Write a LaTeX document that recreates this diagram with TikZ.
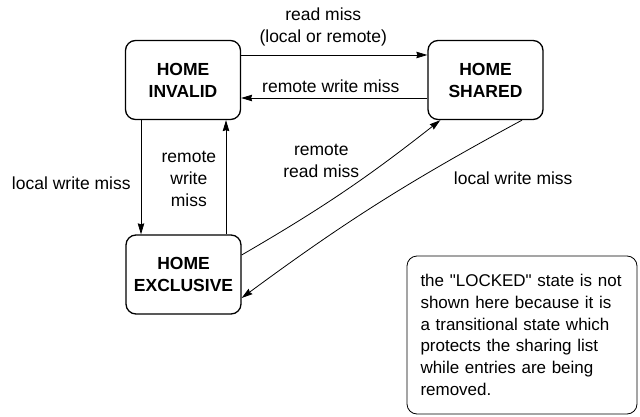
\documentclass[tikz,border=0pt]{standalone}
\usepackage{fontspec}
\setmainfont{Liberation Sans}[Ligatures=TeXOff]
\usetikzlibrary{arrows.meta}

\begin{document}
\begin{tikzpicture}[x=1pt, y=1pt,
		txt/.style={font=\fontsize{17.5}{22}\selectfont, align=center, inner sep=0pt},
		home/.style={draw, rectangle, rounded corners=10pt, line width=1.3pt, minimum width=115pt, minimum height=79pt, txt, font=\fontsize{17.5}{22}\selectfont\bfseries},
		trans/.style={line width=0.8pt, -{Stealth[length=11pt, width=6.5pt, inset=1pt]}}]
				\useasboundingbox (0, 0) rectangle (640, 416);
				\node[home] (HI)at(183, 336) {HOME\\INVALID};
				\node[home] (HS)at(485.5, 336) {HOME\\SHARED};
				\node[home] (HE)at(183.5, 141.5) {HOME\\EXCLUSIVE};
				\node[draw, rectangle, rounded corners=10pt, line width=0.8pt, minimum height=158pt, text width=203pt, inner xsep=13.5pt, inner ysep=0pt, align=left, font=\fontsize{17}{21.7}\selectfont] (note)at(522, 81) {the "LOCKED" state is not\\shown here because it is\\a transitional state which\\protects the sharing list\\while entries are being\\removed.};
				\draw[trans] ([yshift=25pt]HI.east) -- ([yshift=25pt]HS.west) node[midway, txt, xshift=-11pt, yshift=28.5pt] {read miss\\(local or remote)};
				\draw[trans] ([yshift=-18pt]HS.west) -- ([yshift=-18pt]HI.east) node[midway, txt, xshift=-3.5pt, yshift=12pt] {remote write miss};
				\draw[trans] ([xshift=-42pt]HI.south) -- ([xshift=-42pt]HI.south |- HE.north) node[midway, txt, left=10pt, yshift=-6pt] {local write miss};
				\draw[trans] ([xshift=43pt]HI.south |- HE.north) -- ([xshift=43pt]HI.south) node[midway, txt, left=9.5pt, yshift=-2pt] {remote\\write\\miss};
				\draw[trans] ([yshift=19.5pt]HE.east) to[bend right=4] node[midway, txt, xshift=-22.5pt, yshift=31pt] {remote\\read miss} ([xshift=13pt]HS.south west);
				\draw[trans] ([xshift=36.5pt]HS.south) to[bend right=4] node[midway, txt, xshift=135pt, yshift=25pt] {local write miss} ([yshift=-23.5pt]HE.east);
			\end{tikzpicture}
\end{document}
